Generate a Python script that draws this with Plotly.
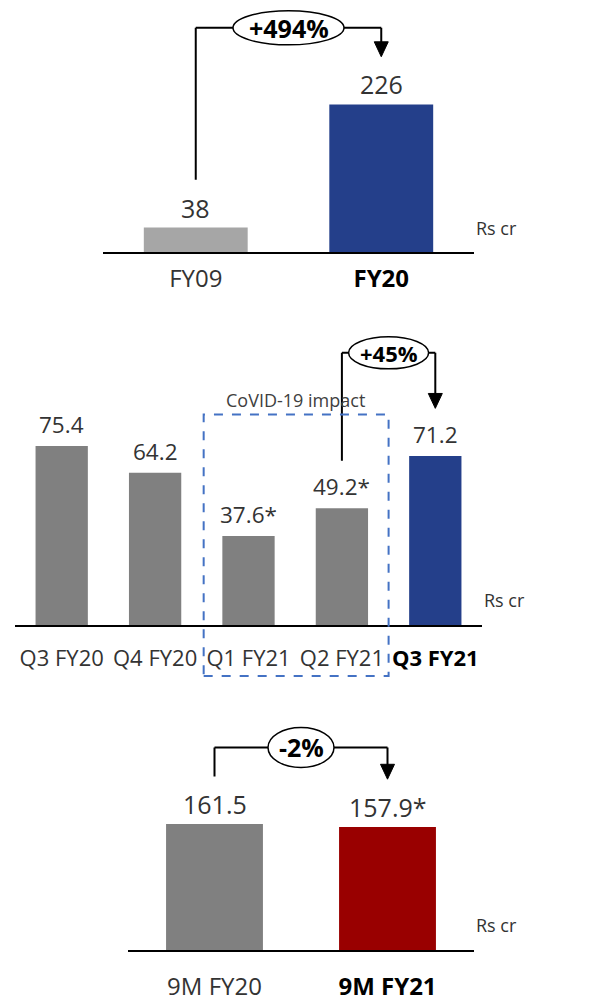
import plotly.graph_objects as go

W, H = 589, 1002

# ── data ─────────────────────────────────────────────────────────────
fy_cats = ["FY09", "FY20"]
fy_vals = [38, 226]
fy_marks = ["", ""]
fy_colors = ["#A6A6A6", "#243F8A"]

q_cats = ["Q3 FY20", "Q4 FY20", "Q1 FY21", "Q2 FY21", "Q3 FY21"]
q_vals = [75.4, 64.2, 37.6, 49.2, 71.2]
q_marks = ["", "", "*", "*", ""]
q_colors = ["#808080", "#808080", "#808080", "#808080", "#243F8A"]

nm_cats = ["9M FY20", "9M FY21"]
nm_vals = [161.5, 157.9]
nm_marks = ["", "*"]
nm_colors = ["#808080", "#990000"]

growth = ["+494%", "+45%", "-2%"]
growth_from_to = [(0, 1), (3, 4), (0, 1)]
bold_cat = [1, 4, 1]

# ── panel geometry (pixels) ──────────────────────────────────────────
panels = [
    dict(cats=fy_cats, vals=fy_vals, marks=fy_marks, colors=fy_colors,
         xl=103, xr=474, base=254, top=0, ppu=0.659, vfont=25, cfont=24,
         standoff=4, vshift=1, brk=28, ell=(111, 34), gfont=25),
    dict(cats=q_cats, vals=q_vals, marks=q_marks, colors=q_colors,
         xl=15, xr=482, base=629, top=330, ppu=2.39, vfont=22.5, cfont=22,
         standoff=12, vshift=4, brk=355, ell=(80, 32), gfont=22),
    dict(cats=nm_cats, vals=nm_vals, marks=nm_marks, colors=nm_colors,
         xl=128, xr=474, base=956, top=720, ppu=0.786, vfont=25, cfont=24,
         standoff=14, vshift=1, brk=752, ell=(66, 40), gfont=25),
]

FONT = "Open Sans"
TXT = "#333333"

fig = go.Figure()
shapes, annots = [], []
layout = {}

for k, p in enumerate(panels):
    sfx = "" if k == 0 else str(k + 1)
    xr_name, yr_name = "x" + sfx, "y" + sfx
    n = len(p["cats"])
    yrange = (p["base"] - p["top"]) / p["ppu"]
    xppu = (p["xr"] - p["xl"]) / n

    fig.add_trace(go.Bar(
        x=list(range(n)), y=p["vals"], width=0.56,
        marker=dict(color=p["colors"], line=dict(width=0)),
        xaxis=xr_name, yaxis=yr_name, showlegend=False, hoverinfo="skip",
    ))

    ticktext = []
    for i, c in enumerate(p["cats"]):
        if i == bold_cat[k]:
            ticktext.append(f"<span style='color:#000000'><b>{c}</b></span>")
        else:
            ticktext.append(c)

    layout["xaxis" + sfx] = dict(
        domain=[p["xl"] / W, p["xr"] / W], range=[-0.5, n - 0.5],
        anchor=yr_name, tickvals=list(range(n)), ticktext=ticktext,
        showline=True, linecolor="black", linewidth=2, ticks="",
        showgrid=False, zeroline=False, fixedrange=True,
        ticklabelstandoff=p["standoff"],
        tickfont=dict(family=FONT, size=p["cfont"], color=TXT),
    )
    layout["yaxis" + sfx] = dict(
        domain=[1 - p["base"] / H, 1 - p["top"] / H], range=[0, yrange],
        anchor=xr_name, visible=False, fixedrange=True,
    )

    # value labels
    for i, (v, m) in enumerate(zip(p["vals"], p["marks"])):
        annots.append(dict(
            x=i, y=v, xref=xr_name, yref=yr_name, text=f"{v:g}{m}",
            showarrow=False, yanchor="bottom", yshift=p["vshift"],
            font=dict(family=FONT, size=p["vfont"], color=TXT),
        ))

    # Rs cr unit
    annots.append(dict(
        x=1, y=25 / (p["base"] - p["top"]),
        xref=xr_name + " domain", yref=yr_name + " domain",
        text="Rs cr", showarrow=False, xanchor="left", yanchor="middle",
        font=dict(family=FONT, size=18, color=TXT),
    ))

    # growth bracket
    i0, i1 = growth_from_to[k]
    gap = 48 / p["ppu"]
    top_y = (p["base"] - p["brk"]) / p["ppu"]
    arr_h = 15 / p["ppu"]
    arr_w = 7 / xppu
    lw = dict(color="black", width=2)
    tip = p["vals"][i1] + gap
    shapes += [
        dict(type="line", xref=xr_name, yref=yr_name, x0=i0, x1=i0,
             y0=p["vals"][i0] + gap, y1=top_y, line=lw),
        dict(type="line", xref=xr_name, yref=yr_name, x0=i0, x1=i1,
             y0=top_y, y1=top_y, line=lw),
        dict(type="line", xref=xr_name, yref=yr_name, x0=i1, x1=i1,
             y0=top_y, y1=tip + arr_h * 0.9, line=lw),
        dict(type="path", xref=xr_name, yref=yr_name,
             path=f"M {i1 - arr_w},{tip + arr_h} L {i1 + arr_w},{tip + arr_h} "
                  f"L {i1},{tip} Z",
             fillcolor="black", line=dict(color="black", width=1)),
        dict(type="circle", xref=xr_name, yref=yr_name,
             xsizemode="pixel", ysizemode="pixel",
             xanchor=(i0 + i1) / 2, yanchor=top_y,
             x0=-p["ell"][0] / 2, x1=p["ell"][0] / 2,
             y0=-p["ell"][1] / 2, y1=p["ell"][1] / 2,
             fillcolor="white", line=dict(color="black", width=1.5)),
    ]
    annots.append(dict(
        x=(i0 + i1) / 2, y=top_y, xref=xr_name, yref=yr_name,
        text=f"<b>{growth[k]}</b>", showarrow=False,
        font=dict(family=FONT, size=p["gfont"], color="black"),
    ))

# CoVID-19 impact box around Q1/Q2 FY21
shapes.append(dict(
    type="rect", xref="x2", yref="paper", x0=1.52, x1=3.5,
    y0=1 - 680 / H, y1=1 - 417 / H,
    line=dict(color="#4472C4", width=2, dash="dash"), fillcolor="rgba(0,0,0,0)",
))
annots.append(dict(
    x=2.5, y=1 - 402 / H, xref="x2", yref="paper", text="CoVID-19 impact",
    showarrow=False, font=dict(family=FONT, size=18, color="#404040"),
))

fig.update_layout(
    width=W, height=H, margin=dict(l=0, r=0, t=0, b=0),
    paper_bgcolor="white", plot_bgcolor="white",
    shapes=shapes, annotations=annots, showlegend=False,
    font=dict(family=FONT, color=TXT),
    **layout,
)

fig.write_html("out.html", config={"displayModeBar": False},
               post_script=["document.body.style.margin = '0px';"])
